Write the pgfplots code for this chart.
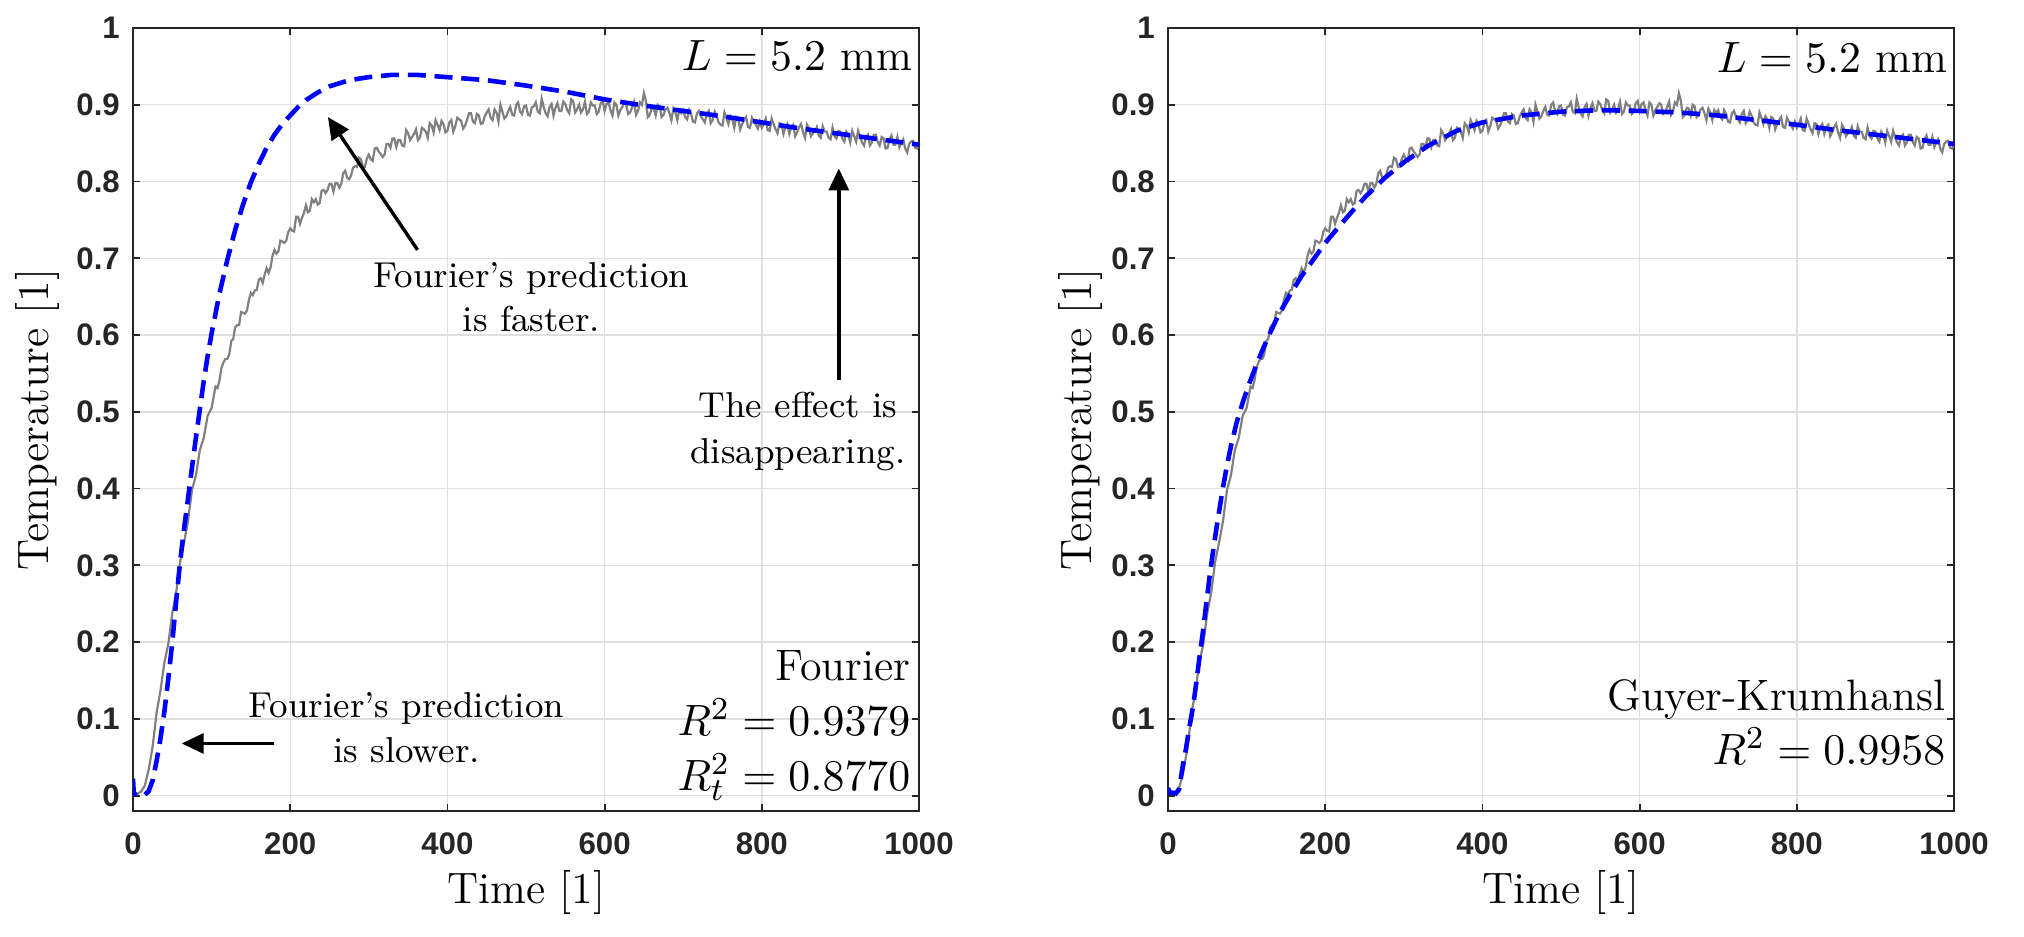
\documentclass[border=0pt]{standalone}
\usepackage{fontspec}
\setsansfont{Liberation Sans}
\usepackage{pgfplots}
\usepackage{pgfplotstable}
\pgfplotsset{compat=1.18}
\usetikzlibrary{arrows.meta}
\definecolor{mgray}{RGB}{128,128,128}
\definecolor{axgray}{RGB}{38,38,38}
\definecolor{gridc}{RGB}{223,223,223}

\pgfplotstableread{
t T
0 0.007
5 0.002
10 0.005
15 0.013
20 0.034
25 0.064
30 0.108
35 0.137
40 0.174
45 0.198
50 0.238
55 0.265
60 0.305
65 0.330
70 0.358
75 0.398
80 0.417
85 0.450
90 0.466
95 0.495
100 0.505
102.5 0.519
105 0.533
107.5 0.531
110 0.541
112.5 0.557
115 0.564
117.5 0.569
120 0.569
122.5 0.575
125 0.592
127.5 0.595
130 0.610
132.5 0.613
135 0.613
137.5 0.630
140 0.629
142.5 0.628
145 0.632
147.5 0.646
150 0.655
152.5 0.652
155 0.658
157.5 0.659
160 0.672
162.5 0.674
165 0.668
167.5 0.679
170 0.687
172.5 0.681
175 0.688
177.5 0.703
180 0.711
182.5 0.706
185 0.709
187.5 0.723
190 0.722
192.5 0.720
195 0.723
197.5 0.734
200 0.739
202.5 0.736
205 0.735
207.5 0.754
210 0.754
212.5 0.745
215 0.753
217.5 0.759
220 0.769
222.5 0.760
225 0.762
227.5 0.777
230 0.773
232.5 0.777
235 0.770
237.5 0.772
240 0.788
242.5 0.789
245 0.785
247.5 0.789
250 0.797
252.5 0.797
255 0.787
257.5 0.798
260 0.798
262.5 0.792
265 0.797
267.5 0.811
270 0.814
272.5 0.805
275 0.803
277.5 0.808
280 0.818
282.5 0.820
285 0.819
287.5 0.831
290 0.829
292.5 0.819
295 0.819
297.5 0.830
300 0.835
302.5 0.829
305 0.827
307.5 0.843
310 0.844
312.5 0.839
315 0.836
317.5 0.832
320 0.835
322.5 0.849
325 0.849
327.5 0.844
330 0.856
332.5 0.856
335 0.845
337.5 0.854
340 0.854
342.5 0.847
345 0.846
347.5 0.867
350 0.863
352.5 0.854
355 0.858
357.5 0.862
360 0.868
362.5 0.854
365 0.857
367.5 0.870
370 0.868
372.5 0.865
375 0.857
377.5 0.876
380 0.873
382.5 0.864
385 0.880
387.5 0.874
390 0.867
392.5 0.879
395 0.875
397.5 0.864
400 0.866
402.5 0.877
405 0.880
407.5 0.865
410 0.872
412.5 0.883
415 0.881
417.5 0.879
420 0.869
422.5 0.873
425 0.880
427.5 0.889
430 0.889
432.5 0.878
435 0.876
437.5 0.888
440 0.886
442.5 0.875
445 0.876
447.5 0.885
450 0.890
452.5 0.894
455 0.883
457.5 0.880
460 0.894
462.5 0.890
465 0.878
467.5 0.900
470 0.891
472.5 0.882
475 0.885
477.5 0.892
480 0.897
482.5 0.887
485 0.886
487.5 0.900
490 0.903
492.5 0.891
495 0.888
497.5 0.898
500 0.899
502.5 0.887
505 0.886
507.5 0.897
510 0.898
512.5 0.903
515 0.891
517.5 0.889
520 0.908
522.5 0.897
525 0.889
527.5 0.885
530 0.897
532.5 0.901
535 0.886
537.5 0.896
540 0.902
542.5 0.892
545 0.892
547.5 0.904
550 0.901
552.5 0.893
555 0.889
557.5 0.907
560 0.905
562.5 0.890
565 0.894
567.5 0.900
570 0.890
572.5 0.894
575 0.904
577.5 0.888
580 0.891
582.5 0.903
585 0.899
587.5 0.899
590 0.888
592.5 0.891
595 0.902
597.5 0.905
600 0.892
602.5 0.901
605 0.903
607.5 0.893
610 0.886
612.5 0.903
615 0.900
617.5 0.886
620 0.893
622.5 0.897
625 0.902
627.5 0.900
630 0.888
632.5 0.890
635 0.897
637.5 0.904
640 0.887
642.5 0.892
645 0.903
647.5 0.900
650 0.915
652.5 0.905
655 0.884
657.5 0.887
660 0.896
662.5 0.895
665 0.886
667.5 0.900
670 0.898
672.5 0.884
675 0.887
677.5 0.894
680 0.896
682.5 0.889
685 0.880
687.5 0.895
690 0.890
692.5 0.880
695 0.893
697.5 0.889
700 0.893
702.5 0.884
705 0.881
707.5 0.893
710 0.888
712.5 0.878
715 0.877
717.5 0.889
720 0.892
722.5 0.885
725 0.881
727.5 0.877
730 0.888
732.5 0.892
735 0.876
737.5 0.880
740 0.891
742.5 0.886
745 0.877
747.5 0.874
750 0.873
752.5 0.890
755 0.883
757.5 0.875
760 0.885
762.5 0.881
765 0.870
767.5 0.884
770 0.882
772.5 0.868
775 0.875
777.5 0.880
780 0.884
782.5 0.871
785 0.870
787.5 0.883
790 0.878
792.5 0.874
795 0.869
797.5 0.878
800 0.870
802.5 0.875
805 0.882
807.5 0.867
810 0.866
812.5 0.882
815 0.875
817.5 0.868
820 0.863
822.5 0.876
825 0.875
827.5 0.862
830 0.871
832.5 0.875
835 0.862
837.5 0.871
840 0.874
842.5 0.859
845 0.864
847.5 0.871
850 0.875
852.5 0.864
855 0.857
857.5 0.874
860 0.869
862.5 0.859
865 0.863
867.5 0.865
870 0.871
872.5 0.860
875 0.857
877.5 0.872
880 0.865
882.5 0.865
885 0.857
887.5 0.855
890 0.870
892.5 0.859
895 0.856
897.5 0.866
900 0.865
902.5 0.856
905 0.852
907.5 0.865
910 0.861
912.5 0.851
915 0.866
917.5 0.859
920 0.852
922.5 0.866
925 0.858
927.5 0.851
930 0.847
932.5 0.858
935 0.861
937.5 0.847
940 0.851
942.5 0.861
945 0.861
947.5 0.852
950 0.847
952.5 0.858
955 0.856
957.5 0.843
960 0.844
962.5 0.855
965 0.860
967.5 0.848
970 0.848
972.5 0.858
975 0.845
977.5 0.851
980 0.855
982.5 0.843
985 0.838
987.5 0.849
990 0.852
992.5 0.853
995 0.844
997.5 0.843
1000 0.848
}\measured

\pgfplotstableread{
t T
0 0.022
1 0.003
5 0.0
10 0.0
15 0.001
20 0.006
25 0.02
30 0.045
35 0.075
40 0.11
45 0.153
50 0.2
55 0.254
60 0.305
65 0.348
70 0.387
75 0.427
80 0.466
85 0.503
90 0.54
95 0.573
100 0.602
110 0.654
120 0.698
130 0.737
140 0.770
150 0.799
160 0.823
170 0.844
180 0.861
190 0.875
200 0.886
210 0.897
220 0.906
235 0.916
250 0.924
275 0.932
300 0.936
330 0.939
360 0.939
400 0.936
450 0.932
500 0.925
550 0.917
600 0.907
650 0.899
700 0.892
750 0.885
800 0.877
850 0.869
900 0.862
950 0.855
1000 0.848
}\fourier

\pgfplotstableread{
t T
0 0.010
2 0.004
5 0.004
10 0.003
14 0.008
19 0.04
23 0.062
27 0.088
32 0.117
36 0.147
40 0.18
45 0.218
49 0.253
53 0.286
57 0.316
61 0.344
65 0.37
70 0.402
75 0.43
80 0.455
87 0.485
95 0.512
103 0.536
112 0.56
120 0.58
129 0.601
140 0.625
155 0.652
170 0.677
184 0.697
200 0.72
218 0.742
235 0.762
251 0.78
275 0.804
300 0.825
330 0.846
367 0.866
400 0.877
450 0.886
500 0.891
550 0.893
600 0.892
650 0.890
700 0.886
750 0.880
800 0.874
850 0.867
900 0.861
950 0.855
1000 0.849
}\gk

\tikzset{
  ann/.style={font=\fontsize{9}{11}\selectfont, anchor=base, inner sep=0pt},
  big/.style={font=\fontsize{11}{13}\selectfont, anchor=base east, inner sep=0pt},
  arr/.style={line width=0.85pt, -{Triangle[length=5.5pt,width=5pt]}},
}
\pgfplotsset{
  myax/.style={
    scale only axis, width=196.5pt, height=195.75pt,
    anchor=south west,
    xmin=0, xmax=1000, ymin=-0.02, ymax=1,
    xtick={0,200,400,600,800,1000},
    ytick={0,0.1,0.2,0.3,0.4,0.5,0.6,0.7,0.8,0.9,1},
    grid=major,
    major grid style={color=gridc, line width=0.35pt},
    axis line style={color=axgray, line width=0.45pt},
    tick style={color=axgray, line width=0.45pt},
    tick align=inside, major tick length=1.75pt,
    /pgf/number format/assume math mode=true,
    /pgf/number format/1000 sep={},
    ticklabel style={font=\fontsize{7.8}{9}\selectfont\sffamily\bfseries, text=axgray},
    yticklabel style={anchor=east, inner sep=0pt, xshift=-3.1pt},
    xticklabel style={anchor=base, inner sep=0pt, yshift=-10.75pt},
    xlabel={Time [1]},
    ylabel={Temperature [1]},
    xlabel style={at={([yshift=-23pt]axis description cs:0.5,0)}, anchor=base, font=\fontsize{11}{13}\selectfont},
  },
  meas/.style={color=mgray, line width=0.55pt},
  model/.style={color=blue, line width=1.15pt, dash pattern=on 4.5pt off 2.2pt},
}

\begin{document}
\begin{tikzpicture}
\useasboundingbox (0,0) rectangle (506pt,234pt);

\begin{axis}[myax, at={(33.25pt,31.25pt)},
  ylabel style={at={([xshift=-23.75pt]axis description cs:0,0.5)}, anchor=center, font=\fontsize{11}{13}\selectfont}]
\addplot[meas] table[x=t,y=T]{\measured};
\addplot[model] table[x=t,y=T]{\fourier};
\node[big] at ([xshift=-1.5pt,yshift=-10.5pt]rel axis cs:1,1) {$L=5.2$ mm};
\node[big] at ([xshift=-2pt,yshift=32.75pt]rel axis cs:1,0) {Fourier};
\node[big] at ([xshift=-2pt,yshift=19pt]rel axis cs:1,0) {$R^2=0.9379$};
\node[big] at ([xshift=-2pt,yshift=5.25pt]rel axis cs:1,0) {$R_t^2=0.8770$};
\node[ann] at (axis cs:507,0.662) {Fourier's prediction};
\node[ann] at (axis cs:507,0.604) {is faster.};
\node[ann] at (axis cs:348,0.102) {Fourier's prediction};
\node[ann] at (axis cs:348,0.043) {is slower.};
\node[ann] at (axis cs:846,0.493) {The effect is};
\node[ann] at (axis cs:846,0.433) {disappearing.};
\draw[arr] (axis cs:362,0.711) -- (axis cs:248,0.884);
\draw[arr] (axis cs:180,0.068) -- (axis cs:62,0.068);
\draw[arr] (axis cs:898,0.541) -- (axis cs:898,0.817);
\end{axis}

\begin{axis}[myax, at={(292pt,31.25pt)},
  ylabel style={at={([xshift=-22pt]axis description cs:0,0.5)}, anchor=center, font=\fontsize{11}{13}\selectfont}]
\addplot[meas] table[x=t,y=T]{\measured};
\addplot[model] table[x=t,y=T]{\gk};
\node[big] at ([xshift=-1.5pt,yshift=-11pt]rel axis cs:1,1) {$L=5.2$ mm};
\node[big] at ([xshift=-2pt,yshift=25.25pt]rel axis cs:1,0) {Guyer-Krumhansl};
\node[big] at ([xshift=-2pt,yshift=11.75pt]rel axis cs:1,0) {$R^2=0.9958$};
\end{axis}
\end{tikzpicture}
\end{document}
